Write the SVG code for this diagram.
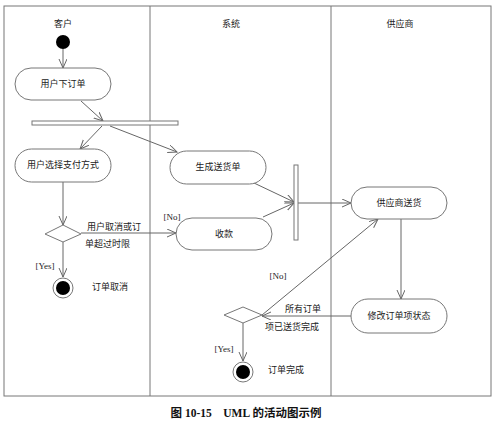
<svg xmlns="http://www.w3.org/2000/svg" width="496" height="425" viewBox="0 0 496 425">
<style>
.t{font-family:"Liberation Serif","Noto Sans CJK SC",serif;font-size:9px;fill:#222;text-anchor:middle}
.l{text-anchor:start}
.act{fill:#fff;stroke:#777;stroke-width:1}
.c{stroke:#666;stroke-width:1;fill:none}
.frame{fill:none;stroke:#777;stroke-width:1}
.cap{font-family:"Liberation Serif","Noto Sans CJK SC",serif;font-size:11.5px;font-weight:bold;fill:#111;text-anchor:middle}
</style>
<defs>
<marker id="a" markerWidth="10" markerHeight="10" refX="9" refY="4" orient="auto" markerUnits="userSpaceOnUse">
<path d="M0,0 L9,4 L0,8" fill="none" stroke="#666" stroke-width="1"/>
</marker>
</defs>
<rect width="496" height="425" fill="#fff"/>
<g id="lanes">
<rect class="frame" x="4" y="6" width="487" height="390"/>
<line class="frame" x1="150" y1="6" x2="150" y2="396"/>
<line class="frame" x1="331" y1="6" x2="331" y2="396"/>
<text class="t" x="63" y="27">客户</text>
<text class="t" x="231" y="27">系统</text>
<text class="t" x="400" y="27">供应商</text>
</g>
<g id="connectors">
<line class="c" x1="63" y1="49" x2="63" y2="68" marker-end="url(#a)"/>
<line class="c" x1="81" y1="101" x2="103" y2="121" marker-end="url(#a)"/>
<line class="c" x1="102" y1="126" x2="80" y2="149" marker-end="url(#a)"/>
<line class="c" x1="110" y1="126" x2="177" y2="152" marker-end="url(#a)"/>
<line class="c" x1="63" y1="182" x2="63" y2="225" marker-end="url(#a)"/>
<line class="c" x1="81" y1="233" x2="176" y2="233" marker-end="url(#a)"/>
<line class="c" x1="63" y1="242" x2="63" y2="277" marker-end="url(#a)"/>
<line class="c" x1="254" y1="183" x2="294" y2="202" marker-end="url(#a)"/>
<line class="c" x1="263" y1="217" x2="294" y2="203" marker-end="url(#a)"/>
<line class="c" x1="298" y1="203" x2="351" y2="203" marker-end="url(#a)"/>
<line class="c" x1="401" y1="219" x2="401" y2="299" marker-end="url(#a)"/>
<line class="c" x1="351" y1="316" x2="262" y2="316" marker-end="url(#a)"/>
<line class="c" x1="262" y1="315" x2="378" y2="219" marker-end="url(#a)"/>
<line class="c" x1="243" y1="323" x2="243" y2="361" marker-end="url(#a)"/>
<text class="t l" x="87" y="230">用户取消或订</text>
<text class="t l" x="85" y="247">单超过时限</text>
<text class="t" x="172" y="220">[No]</text>
<text class="t" x="45" y="269">[Yes]</text>
<text class="t" x="278" y="279">[No]</text>
<text class="t" x="303" y="312">所有订单</text>
<text class="t" x="292" y="330">项已送货完成</text>
<text class="t" x="224" y="352">[Yes]</text>
</g>
<g id="start"><circle cx="63" cy="42" r="7" fill="#000"/></g>
<g id="order"><rect class="act" x="15" y="68" width="96" height="32" rx="16"/><text class="t" x="63" y="87">用户下订单</text></g>
<g id="fork"><rect x="32" y="121" width="146" height="4" fill="#fff" stroke="#777"/></g>
<g id="pay"><rect class="act" x="15" y="149" width="96" height="33" rx="16.5"/><text class="t" x="63" y="168">用户选择支付方式</text></g>
<g id="ship"><rect class="act" x="170" y="151" width="96" height="33" rx="16.5"/><text class="t" x="218" y="170">生成送货单</text></g>
<g id="d1"><polygon points="45,234 63,225 81,234 63,242" fill="#fff" stroke="#777"/></g>
<g id="collect"><rect class="act" x="176" y="218" width="96" height="32" rx="16"/><text class="t" x="224" y="237">收款</text></g>
<g id="end1"><circle cx="63" cy="288" r="10" fill="#fff" stroke="#777"/><circle cx="63" cy="288" r="7" fill="#000"/><text class="t" x="110" y="290">订单取消</text></g>
<g id="join"><rect x="294" y="165" width="4" height="75" fill="#fff" stroke="#777"/></g>
<g id="supply"><rect class="act" x="351" y="187" width="96" height="32" rx="16"/><text class="t" x="399" y="206">供应商送货</text></g>
<g id="modify"><rect class="act" x="351" y="299" width="96" height="34" rx="17"/><text class="t" x="399" y="319">修改订单项状态</text></g>
<g id="d2"><polygon points="224,315 243,307 262,315 243,323" fill="#fff" stroke="#777"/></g>
<g id="end2"><circle cx="243" cy="372" r="10" fill="#fff" stroke="#777"/><circle cx="243" cy="372" r="7" fill="#000"/><text class="t" x="286" y="373">订单完成</text></g>
<g id="caption"><text class="cap" x="246" y="417">图 10-15　UML 的活动图示例</text></g>
</svg>
